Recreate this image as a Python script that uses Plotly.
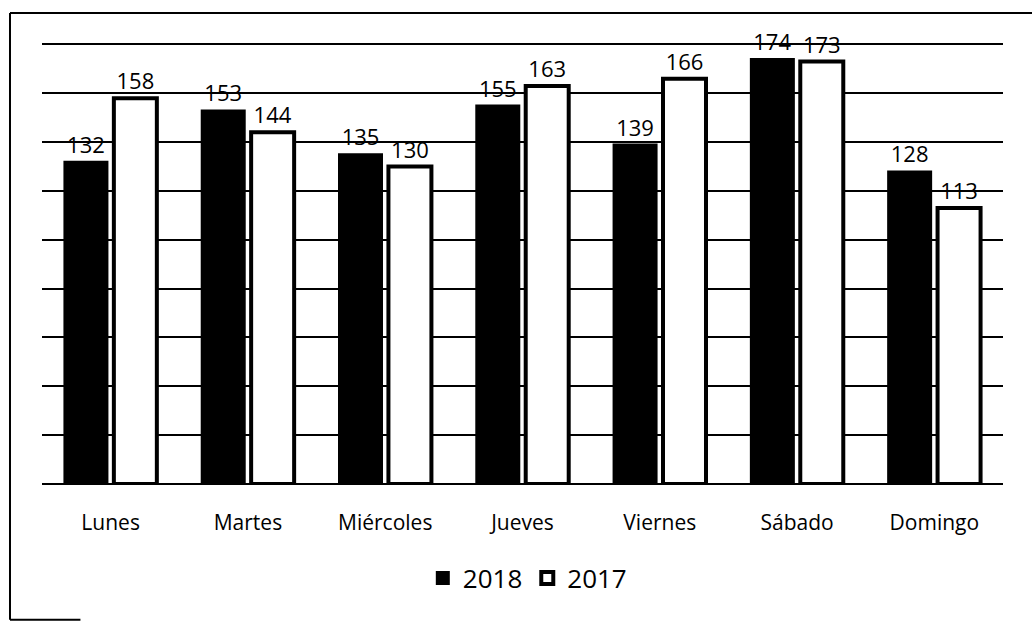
import plotly.graph_objects as go

dias = ["Lunes", "Martes", "Miércoles", "Jueves", "Viernes", "Sábado", "Domingo"]
v2018 = [132, 153, 135, 155, 139, 174, 128]
v2017 = [158, 144, 130, 163, 166, 173, 113]

FONT = "'Open Sans', Lato, sans-serif"

fig = go.Figure()
fig.add_trace(go.Bar(
    x=dias, y=v2018, name="2018",
    marker=dict(color="black", line=dict(color="black", width=2)),
    text=[str(v) for v in v2018], textposition="outside",
    textfont=dict(size=22, color="black", family=FONT),
    constraintext="none", cliponaxis=False,
))
fig.add_trace(go.Bar(
    x=dias, y=v2017, name="2017",
    marker=dict(color="white", line=dict(color="black", width=4)),
    text=[str(v) for v in v2017], textposition="outside",
    textfont=dict(size=22, color="black", family=FONT),
    constraintext="none", cliponaxis=False,
))

fig.update_layout(
    width=1032, height=623,
    margin=dict(l=42, r=29, t=43, b=139, autoexpand=False),
    paper_bgcolor="white", plot_bgcolor="white",
    barmode="group", bargap=0.28, bargroupgap=0.13,
    font=dict(family=FONT, color="black"),
    showlegend=True,
    legend=dict(orientation="h", x=0.505, xanchor="center", y=-0.16, yanchor="top",
                font=dict(size=26, color="black", family=FONT),
                traceorder="normal", itemwidth=30),
    xaxis=dict(showgrid=False, showline=False, ticks="outside", ticklen=20,
               tickcolor="rgba(0,0,0,0)", automargin=False,
               tickfont=dict(size=21, color="black", family=FONT)),
    yaxis=dict(range=[0, 180.6], dtick=20, showgrid=True, gridcolor="black", gridwidth=2,
               showticklabels=False, zeroline=True, zerolinecolor="black", zerolinewidth=2,
               showline=False, ticks="", automargin=False),
    shapes=[
        dict(type="line", xref="paper", yref="paper", x0=-0.0333, x1=-0.0333, y0=-0.308, y1=1.068,
             line=dict(color="black", width=2)),
        dict(type="line", xref="paper", yref="paper", x0=-0.0333, x1=1.05, y0=1.068, y1=1.068,
             line=dict(color="black", width=2)),
        dict(type="line", xref="paper", yref="paper", x0=-0.0333, x1=0.04, y0=-0.308, y1=-0.308,
             line=dict(color="black", width=2)),
    ],
)

fig.write_html("out.html", config={"displayModeBar": False},
               post_script="document.body.style.margin='0';document.body.style.overflow='hidden';")
